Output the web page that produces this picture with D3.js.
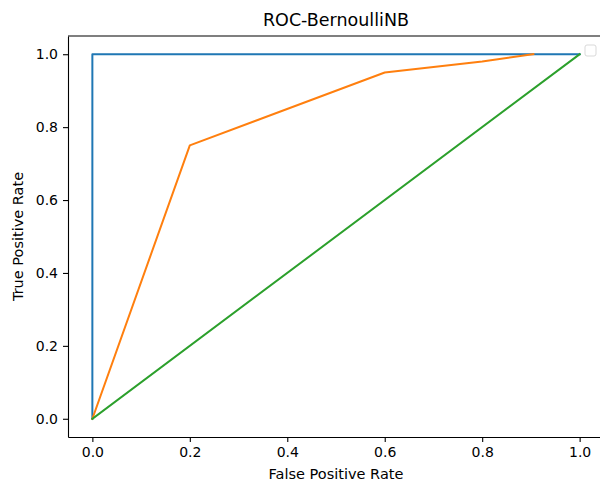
<!DOCTYPE html>
<html>
<head>
<meta charset="utf-8">
<script src="https://cdn.jsdelivr.net/npm/d3@7"></script>
<style>
  body { margin: 0; background: #fff; }
  svg { display: block; font-family: "DejaVu Sans", sans-serif; }
  .axis path, .axis line { stroke: #000; stroke-width: 1.1; }
  .axis text { font-size: 14px; fill: #000; font-family: "DejaVu Sans", sans-serif; }
</style>
</head>
<body>
<div class="chart"></div>
<script>
// ROC curves (false positive rate, true positive rate)
var perfectFpr = [0, 0, 1];
var perfectTpr = [0, 1, 1];
var modelFpr = [0, 0.2, 0.6, 0.8, 0.905];
var modelTpr = [0, 0.75, 0.95, 0.98, 1.0];
var chanceFpr = [0, 1];
var chanceTpr = [0, 1];
var tickValues = [0, 0.2, 0.4, 0.6, 0.8, 1.0];

var colors = ["#1f77b4", "#ff7f0e", "#2ca02c"];

// set the dimensions and margins of the graph
var margin = {top: 36, right: -4, bottom: 46, left: 68},
    width = 600 - margin.left - margin.right,
    height = 483 - margin.top - margin.bottom;

var x = d3.scaleLinear().domain([-0.05, 1.05]).range([0, width]);
var y = d3.scaleLinear().domain([-0.05, 1.05]).range([height, 0]);

var svg = d3.select(".chart").append("svg")
    .attr("width", 600)
    .attr("height", 483)
    .append("g")
    .attr("transform", "translate(" + margin.left + "," + margin.top + ")");

function toPoints(xs, ys) {
    return xs.map(function(d, i) { return {fpr: d, tpr: ys[i]}; });
}

var valueline = d3.line()
    .x(function(d) { return x(d.fpr); })
    .y(function(d) { return y(d.tpr); });

var series = [
    toPoints(perfectFpr, perfectTpr),
    toPoints(modelFpr, modelTpr),
    toPoints(chanceFpr, chanceTpr)
];

series.forEach(function(s, i) {
    svg.append("path")
        .attr("d", valueline(s))
        .attr("fill", "none")
        .attr("stroke", colors[i])
        .attr("stroke-width", 2)
        .attr("stroke-linejoin", "round")
        .attr("stroke-linecap", "square");
});

// axes
var xAxis = d3.axisBottom(x).tickValues(tickValues).tickFormat(d3.format(".1f")).tickSizeInner(5).tickSizeOuter(0).tickPadding(5);
svg.append("g")
    .attr("class", "axis")
    .attr("transform", "translate(0," + height + ")")
    .call(xAxis);

var yAxis = d3.axisLeft(y).tickValues(tickValues).tickFormat(d3.format(".1f")).tickSizeInner(5).tickSizeOuter(0).tickPadding(5);
svg.append("g")
    .attr("class", "axis")
    .call(yAxis);

// spines (top and right)
svg.append("line")
    .attr("x1", 0).attr("x2", width)
    .attr("y1", 0).attr("y2", 0)
    .attr("stroke", "#000").attr("stroke-width", 1.1);
svg.append("line")
    .attr("x1", width).attr("x2", width)
    .attr("y1", 0).attr("y2", height)
    .attr("stroke", "#000").attr("stroke-width", 1.1);

// empty legend box
svg.append("rect")
    .attr("x", x(1.05) - 19)
    .attr("y", 9)
    .attr("width", 11)
    .attr("height", 11)
    .attr("rx", 2)
    .attr("fill", "#fff")
    .attr("stroke", "#d9d9d9")
    .attr("stroke-width", 1);

// labels
svg.append("text")
    .text("ROC-BernoulliNB")
    .attr("x", width / 2)
    .attr("y", -10)
    .attr("text-anchor", "middle")
    .attr("font-size", "17.5px");

svg.append("text")
    .text("False Positive Rate")
    .attr("x", x(0.5))
    .attr("y", height + 42)
    .attr("text-anchor", "middle")
    .attr("font-size", "14.5px");

svg.append("text")
    .text("True Positive Rate")
    .attr("text-anchor", "middle")
    .attr("font-size", "14.5px")
    .attr("transform", "translate(-45," + y(0.5) + ") rotate(-90)");
</script>
</body>
</html>
